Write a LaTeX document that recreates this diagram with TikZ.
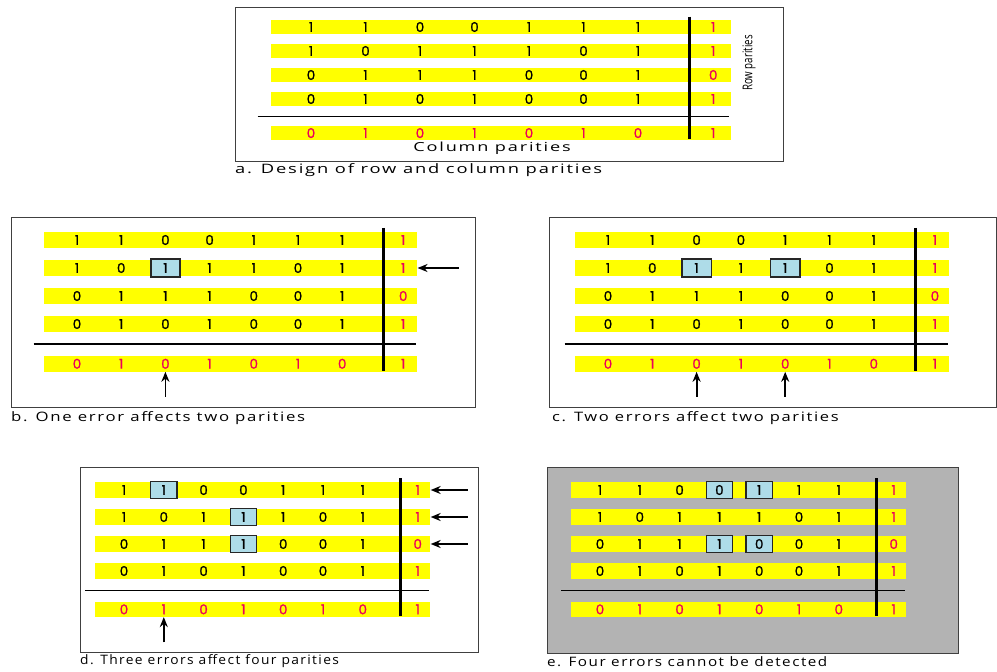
\documentclass[tikz,border=0pt]{standalone}
\usepackage{fontspec}
\setmainfont{Open Sans}
\newfontfamily\capfont[LetterSpace=10]{Open Sans}
\newfontfamily\bitfont[FakeBold=1.5]{Poppins}
\usetikzlibrary{arrows.meta}

\definecolor{baryellow}{RGB}{255,255,0}
\definecolor{parityred}{RGB}{236,0,90}
\definecolor{errblue}{RGB}{174,220,232}
\definecolor{panelgray}{RGB}{179,179,179}

\begin{document}
\begin{tikzpicture}[
    x=1pt, y=-1pt,
    bit/.style={inner sep=1pt, font=\bitfont\fontsize{13.5}{13.5}\selectfont},
    pbit/.style={bit, text=parityred},
    bar/.style={fill=baryellow, inner sep=0pt},
    errbox/.style={draw=black!85, fill=errblue, line width=1.4pt, inner sep=0pt},
    frame/.style={draw=black!75, line width=1pt},
    hsep/.style={line width=1.5pt},
    vsep/.style={line width=2.8pt},
    caption/.style={anchor=west, inner sep=0pt, font=\capfont\fontsize{13}{13}\selectfont},
    errarrow/.style={-{Stealth[length=10pt, width=8pt]}, line width=1.8pt}
]
\useasboundingbox (0,0) rectangle (997,672);

% ============= FRAMES =============
\draw[frame] (235,7) rectangle (783,161);
\draw[frame] (11,217) rectangle (475,407);
\draw[frame] (549,217) rectangle (996,407);
\draw[frame] (80,467) rectangle (478,652);
\draw[frame, fill=panelgray] (547,467) rectangle (958,653);

% ============= PARITY GRIDS =============
\foreach \p/\ox/\oy/\dx/\dy/\errs in {a/311/27/54.5/24/{0/0},
    b/77/240/44.2/28/{2/3}, c/608/240/44.3/28/{2/3,2/5},
    d/124/490/39.8/27/{1/2,2/4,3/4}, e/600/490/39.8/27/{1/4,1/5,3/4,3/5}} {
  \begin{scope}[shift={(\ox,\oy)}, x=\dx pt, y=-\dy pt]
    % yellow bars
    \foreach \r in {1,...,5} {
      \pgfmathsetmacro{\ry}{\r<5 ? \r-1 : 4.42}
      \node[bar, minimum width=8.44*\dx*1pt, minimum height=0.56*\dy*1pt]
        (\p-bar\r) at (3.48,\ry) {};
    }
    % flipped bits
    \foreach \er/\ec in \errs {
      \ifnum\er>0
        \node[errbox, minimum width=0.66*\dx*1pt, minimum height=0.64*\dy*1pt]
          (\p-err\er\ec) at (\ec-1,\er-1) {};
      \fi
    }
    % data bits, row and column parities
    \foreach \row [count=\r] in {{1,1,0,0,1,1,1,1},{1,0,1,1,1,0,1,1},
        {0,1,1,1,0,0,1,0},{0,1,0,1,0,0,1,1},{0,1,0,1,0,1,0,1}} {
      \foreach \d [count=\c] in \row {
        \pgfmathsetmacro{\cx}{\c<8 ? \c-1 : 7.38}
        \pgfmathsetmacro{\ry}{\r<5 ? \r-1 : 4.42}
        \ifnum\c=8 \def\st{pbit}\else\ifnum\r=5 \def\st{pbit}\else\def\st{bit}\fi\fi
        \node[\st] (\p-\r-\c) at (\cx,\ry) {\d};
      }
    }
    % separators
    \draw[hsep] (-0.98,3.72) -- (7.67,3.72);
    \draw[vsep] (6.94,-0.43) -- (6.94,4.68);
  \end{scope}
}

% ============= a. DESIGN =============
\node[inner sep=0pt, font=\capfont\fontsize{12.5}{12.5}\selectfont] (a-colpar) at (492,148.5) {\scalebox{1.45}[1]{Column parities}};
\node[rotate=90, font=\fontsize{13.5}{13.5}\selectfont] (a-rowpar) at (749,63) {\scalebox{0.72}[1]{Row parities}};
\node[caption] (a-cap) at (235,170) {\scalebox{1.41}[1]{a. Design of row and column parities}};

% ============= b. ONE ERROR =============
\path (b-bar2.east) ++(41,0) coordinate (b-in2);
\draw[errarrow] (b-in2) -- (b-bar2.east);
\path (b-5-3) ++(0,33) coordinate (b-up3);
\draw[errarrow] (b-up3) -- (b-5-3 |- b-bar5.south);
\node[caption] (b-cap) at (11,418) {\scalebox{1.29}[1]{b. One error affects two parities}};

% ============= c. TWO ERRORS =============
\foreach \c in {3,5} {
  \path (c-5-\c) ++(0,33) coordinate (c-up\c);
  \draw[errarrow] (c-up\c) -- (c-5-\c |- c-bar5.south);
}
\node[caption] (c-cap) at (552,418) {\scalebox{1.27}[1]{c. Two errors affect two parities}};

% ============= d. THREE ERRORS =============
\foreach \r in {1,2,3} {
  \path (d-bar\r.east) ++(37,0) coordinate (d-in\r);
  \draw[errarrow] (d-in\r) -- (d-bar\r.east);
}
\path (d-5-2) ++(0,33) coordinate (d-up2);
\draw[errarrow] (d-up2) -- (d-5-2 |- d-bar5.south);
\node[caption] (d-cap) at (80,661) {\scalebox{1.06}[1]{d. Three errors affect four parities}};

% ============= e. FOUR ERRORS =============
\node[caption] (e-cap) at (547,662) {\scalebox{1.17}[1]{e. Four errors cannot be detected}};

\end{tikzpicture}
\end{document}
